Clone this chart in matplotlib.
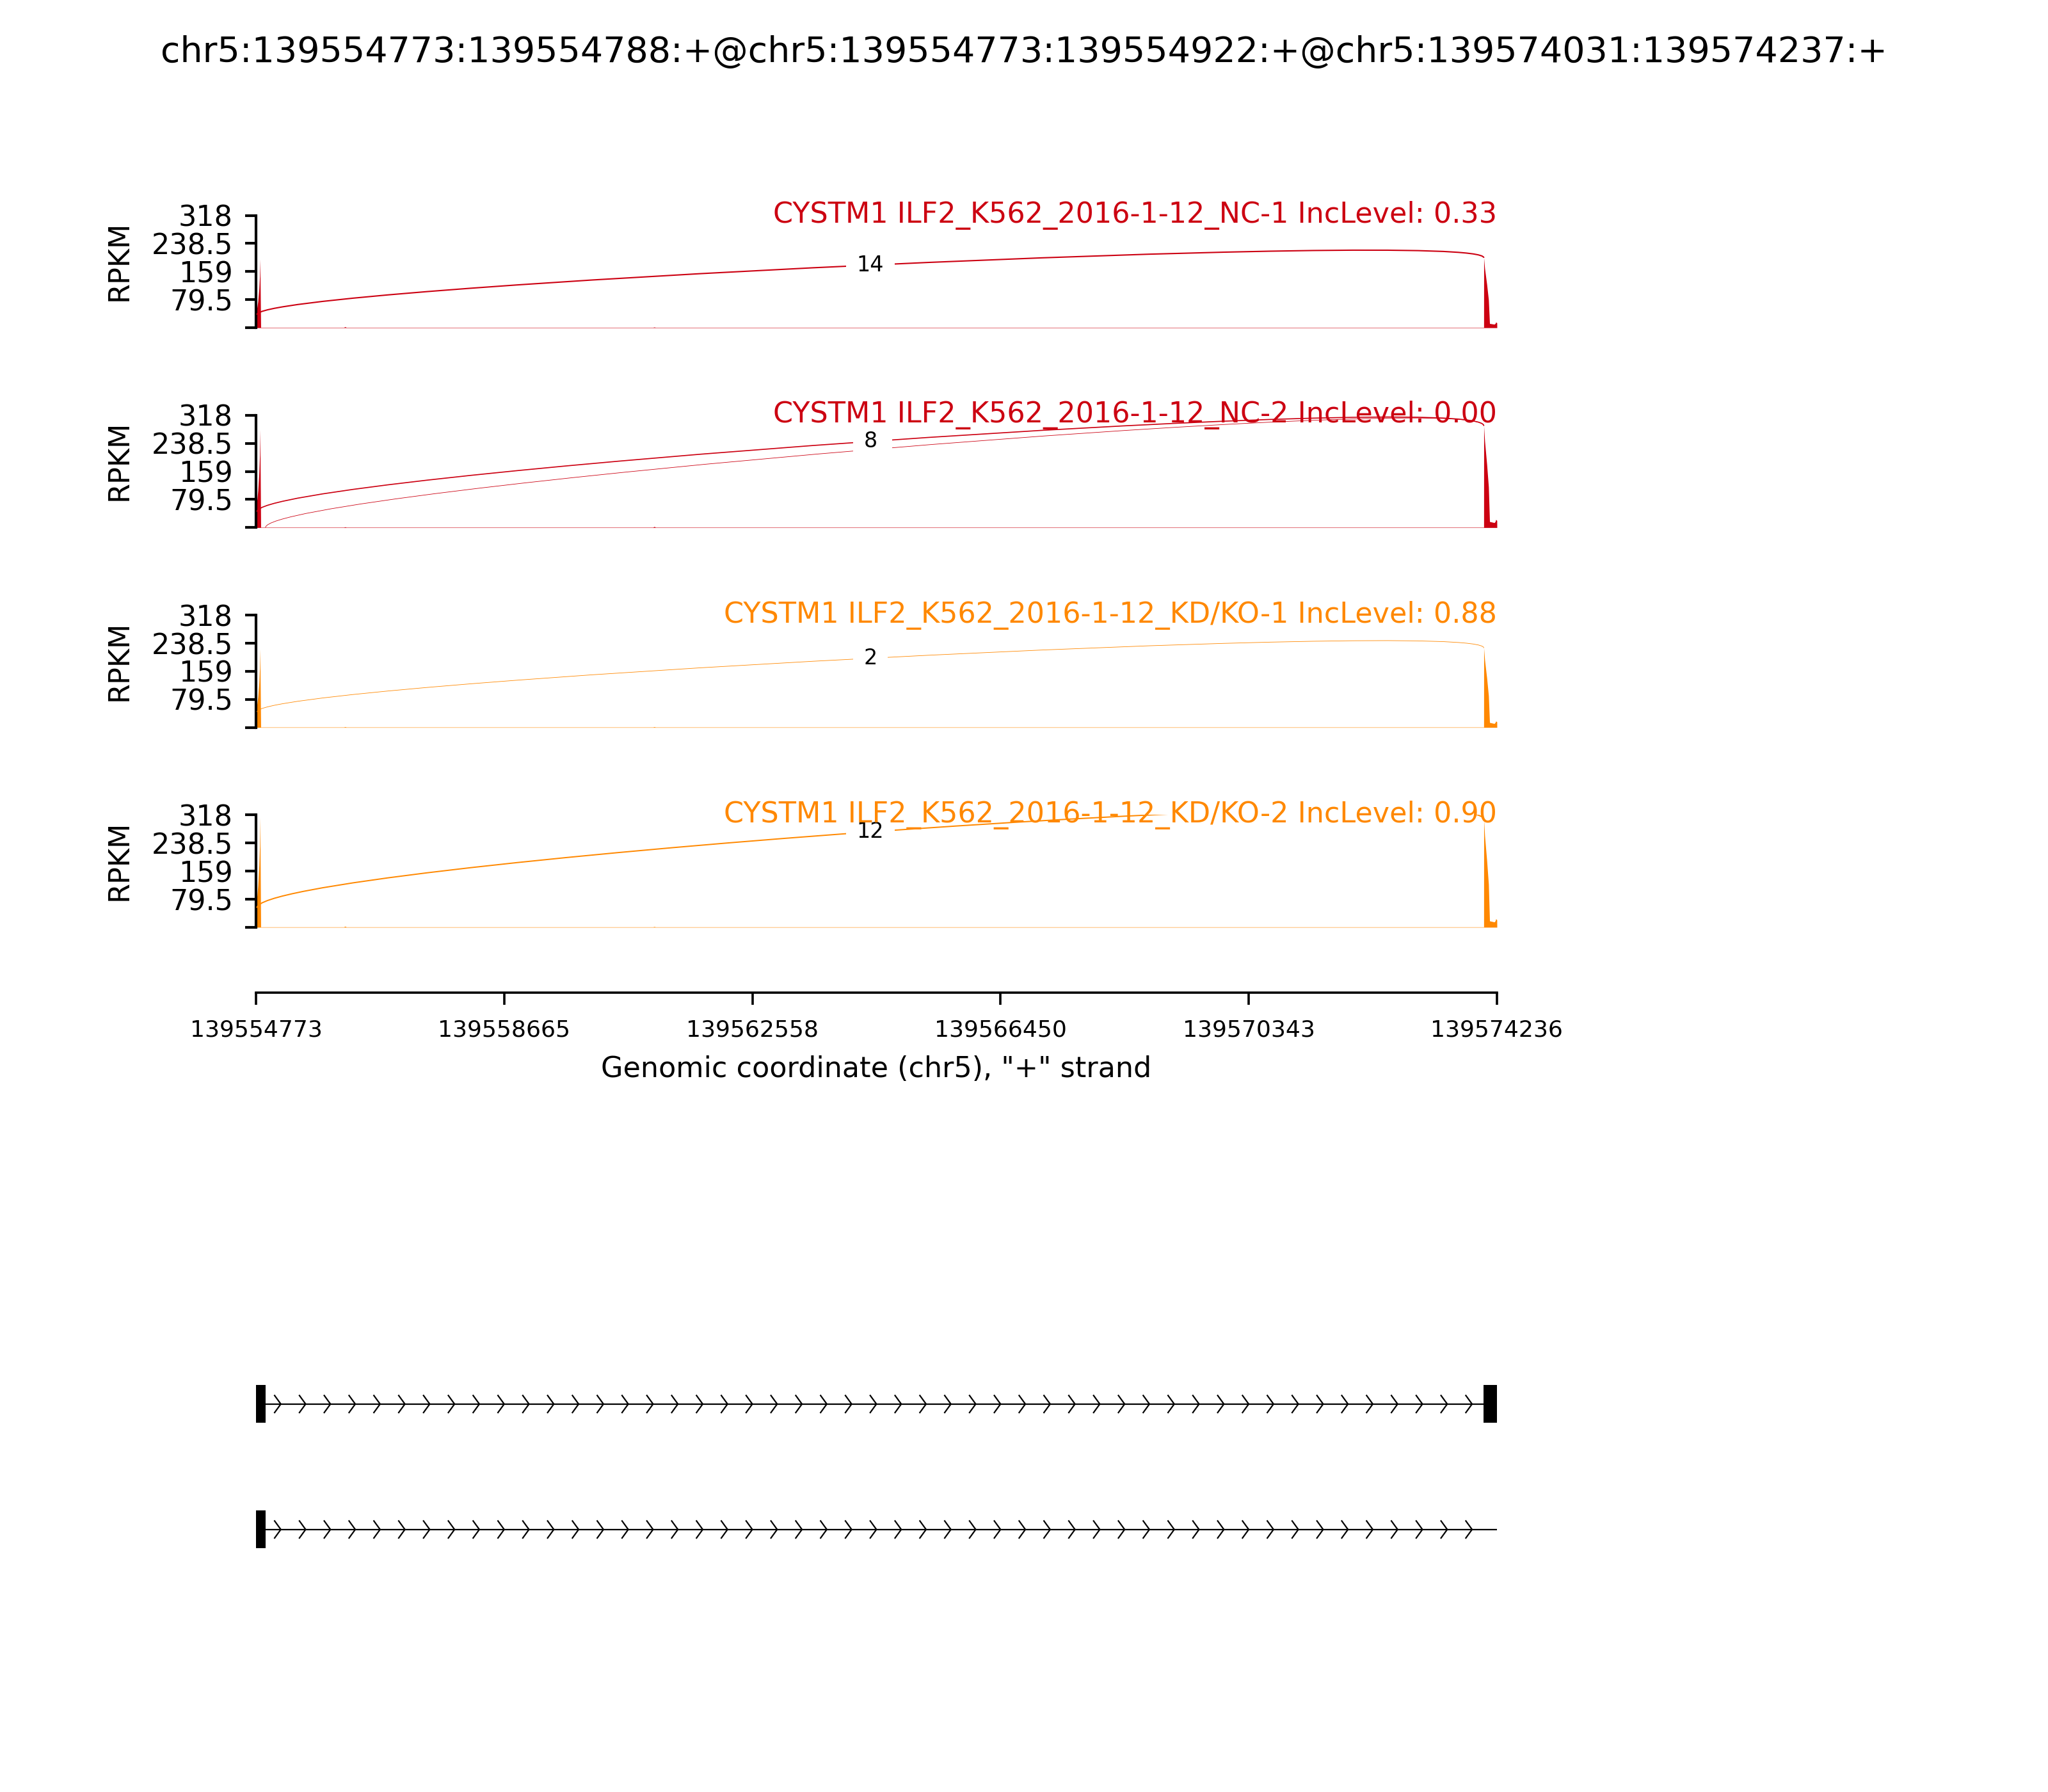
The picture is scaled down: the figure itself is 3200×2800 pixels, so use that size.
import numpy as np
import matplotlib
matplotlib.use("Agg")
import matplotlib.pyplot as plt
from matplotlib.path import Path
from matplotlib.patches import PathPatch, Rectangle

event_title = "chr5:139554773:139554788:+@chr5:139554773:139554922:+@chr5:139574031:139574237:+"
gene_name = "CYSTM1"
samples = ["ILF2_K562_2016-1-12_NC-1", "ILF2_K562_2016-1-12_NC-2",
           "ILF2_K562_2016-1-12_KD/KO-1", "ILF2_K562_2016-1-12_KD/KO-2"]
inc_levels = [0.33, 0.00, 0.88, 0.90]
groups = ["NC", "NC", "KD", "KD"]
group_colors = {"NC": "#CC0011", "KD": "#FF8800"}

ymax = 318
x_start, x_end = 139554773, 139574236
xtick_labels = ["139554773", "139558665", "139562558",
                "139566450", "139570343", "139574236"]

# coverage (RPKM)
cov_pos = [139554773, 139554790, 139554803, 139554820, 139554830, 139554836, 139554848,
           139554849, 139556150, 139556170, 139556190, 139561000, 139561020, 139561040,
           139574030,
           139574031, 139574045, 139574078, 139574105, 139574122, 139574195,
           139574210, 139574220, 139574236, 139574237]
cov_nc1 = [45, 58, 75, 111, 146, 194, 0,
           1, 1, 3, 1, 1, 2, 1,
           1,
           198, 168, 123, 79, 12, 10, 12, 16, 14, 0]
cov_nc2 = [62, 80, 105, 155, 205, 277, 0,
           1, 1, 2, 1, 1, 3, 1,
           1,
           288, 245, 179, 115, 17, 14, 17, 23, 20, 0]
cov_kd1 = [52, 67, 87, 127, 167, 222, 0,
           1, 1, 2, 1, 1, 2, 1,
           1,
           225, 191, 140, 90, 14, 11, 14, 18, 16, 0]
cov_kd2 = [70, 90, 118, 175, 230, 311, 0,
           1, 1, 3, 1, 1, 2, 1,
           1,
           305, 259, 189, 122, 18, 15, 18, 24, 21, 0]
coverages = [cov_nc1, cov_nc2, cov_kd1, cov_kd2]

# junctions per sample: start, end, read count, arc heights (left end, middle, right end)
jxn_start = [[139554788], [139554922, 139554788], [139554788], [139554788]]
jxn_end = [[139574031], [139574031, 139574031], [139574031], [139574031]]
jxn_count = [[14], [1, 8], [2], [12]]
jxn_left_y = [[37], [0, 45], [44], [55]]
jxn_mid_y = [[177.5], [222, 244], [196], [270]]
jxn_right_y = [[198], [288, 288], [225], [305]]

# transcript models
isoforms = [[(139554773, 139554922), (139574031, 139574237)],
            [(139554773, 139554922)]]

fig = plt.figure(figsize=(16, 14), dpi=200)
fig.suptitle(event_title, fontsize=20, y=0.9708, va="center")

left, width = 0.125, 0.6059
unit_h = 0.06268
ymin = -0.58 * ymax
max_count = max(max(c) for c in jxn_count)
yticks = [0, 79.5, 159, 238.5, 318]

for i, name in enumerate(samples):
    color = group_colors[groups[i]]
    zero = 0.8171 - i * 0.11152
    ax = fig.add_axes([left, zero + ymin / ymax * unit_h, width, unit_h * (ymax - ymin) / ymax])
    ax.fill_between(cov_pos, 0, coverages[i], color=color, lw=0, zorder=1)

    for s, e, n, ly, my, ry in zip(jxn_start[i], jxn_end[i], jxn_count[i],
                                   jxn_left_y[i], jxn_mid_y[i], jxn_right_y[i]):
        lift = (my - (ly + ry) / 2) / 0.75
        verts = [(s, ly), (s, ly + lift), (e, ry + lift), (e, ry)]
        path = Path(verts, [Path.MOVETO, Path.CURVE4, Path.CURVE4, Path.CURVE4])
        lw = max(0.3, 0.75 * np.log(n + 1) / np.log(max_count + 1))
        ax.add_patch(PathPatch(path, fc="none", ec=color, lw=lw, zorder=3))
        ax.text((s + e) / 2, my, str(n), ha="center", va="center", fontsize=12,
                bbox=dict(facecolor="white", edgecolor="none", pad=6), zorder=4)

    ax.text(x_end, ymax, "%s %s IncLevel: %.2f" % (gene_name, name, inc_levels[i]),
            ha="right", va="center", fontsize=16, color=color, zorder=6)

    ax.set_xlim(x_start, x_end)
    ax.set_ylim(ymin, ymax)
    ax.spines["top"].set_visible(False)
    ax.spines["right"].set_visible(False)
    ax.spines["left"].set_bounds(0, ymax)
    ax.spines["left"].set_linewidth(1.5)
    ax.set_yticks(yticks)
    ax.set_yticklabels([""] + ["%g" % v for v in yticks[1:]])
    ax.tick_params(axis="y", labelsize=16, length=6, width=1.5, pad=7)
    ax.set_ylabel("RPKM", fontsize=16)
    ax.yaxis.set_label_coords(-0.099, 0.745)

    if i == len(samples) - 1:
        ax.spines["bottom"].set_linewidth(1.3)
        ax.set_xticks([int(t) for t in xtick_labels])
        ax.set_xticklabels(xtick_labels)
        ax.tick_params(axis="x", labelsize=13, length=7, width=1.3, pad=8)
        ax.set_xlabel('Genomic coordinate (chr5), "+" strand', fontsize=16, labelpad=8)
    else:
        ax.spines["bottom"].set_visible(False)
        ax.set_xticks([])

# gene structure track
axg = fig.add_axes([left, 0.1115, width, 0.14])
narrows = 50
spread = 0.25 * (x_end - x_start) / narrows
for k, exons in enumerate(isoforms):
    yloc = len(isoforms) - 1 - k
    axg.axhline(yloc, color="k", lw=0.8)
    for j in range(narrows):
        loc = x_start + j * (x_end - x_start) / narrows
        axg.plot([loc - spread, loc, loc - spread], [yloc - 0.068, yloc, yloc + 0.068],
                 color="k", lw=0.8)
    for s, e in exons:
        axg.add_patch(Rectangle((s, yloc - 0.15), e - s, 0.3, color="k", lw=0, zorder=3))
axg.set_xlim(x_start, x_end)
axg.set_ylim(-0.5, 1.5)
axg.axis("off")

fig.savefig("out.png", dpi=200)
